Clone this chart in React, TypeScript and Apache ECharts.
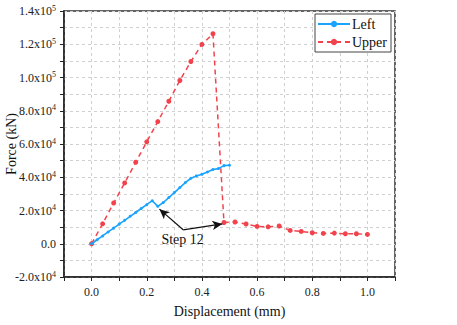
import React, { useEffect, useRef } from "react";
import * as echarts from "echarts";

const leftX = [0, 0.02, 0.04, 0.06, 0.08, 0.1, 0.12, 0.14, 0.16, 0.18, 0.2, 0.22, 0.24, 0.26, 0.28, 0.3, 0.32, 0.34, 0.36, 0.38, 0.4, 0.42, 0.44, 0.46, 0.48, 0.5];
const leftF = [0, 2400, 4700, 7100, 9400, 11800, 14100, 16500, 18800, 21200, 23500, 25900, 22500, 24800, 27800, 30800, 33800, 36800, 39400, 40800, 41800, 43200, 44700, 45200, 47000, 47200];

const upperX = [0, 0.04, 0.08, 0.12, 0.16, 0.2, 0.24, 0.28, 0.32, 0.36, 0.4, 0.44, 0.48, 0.52, 0.56, 0.6, 0.64, 0.68, 0.72, 0.76, 0.8, 0.84, 0.88, 0.92, 0.96, 1.0];
const upperF = [0, 12000, 24500, 36600, 49000, 61300, 73500, 85700, 98200, 109600, 119900, 126300, 12800, 13100, 11900, 10400, 10200, 10700, 8000, 7400, 6600, 6200, 6400, 6000, 6000, 5600];

const annotationText = "Step 12";
const arrowFrom = [0.332, 8400];
const arrowToLeft = [0.246, 20800];
const arrowToUpper = [0.474, 11900];
const textAt = [0.33, 2400];

const FONT = "Liberation Serif";

function yLabel(v: number): string {
  if (Math.abs(v) < 1e-9) return "{b|0.0}";
  if (Math.round(v / 10000) % 2 !== 0) return "";
  const e = Math.floor(Math.log10(Math.abs(v)));
  const m = (v / Math.pow(10, e)).toFixed(1);
  return `{b|${m}x10}{s|${e}}`;
}

function xLabel(v: number): string {
  const k = Math.round(v * 10);
  if (k < 0 || k > 10 || k % 2 !== 0) return "";
  return (k / 10).toFixed(1);
}

export default function App() {
  const ref = useRef<HTMLDivElement>(null);
  useEffect(() => {
    if (!ref.current) return;
    const chart = echarts.init(ref.current, undefined, { renderer: "svg" });
    const blue = "#1aa3ff";
    const red = "#f2434d";
    chart.setOption({
      animation: false,
      backgroundColor: "#fff",
      textStyle: { fontFamily: FONT },
      grid: {
        left: 64,
        top: 11,
        right: 62,
        bottom: 48,
        containLabel: false,
        outerBoundsMode: "none",
        show: true,
        borderColor: "#333",
        borderWidth: 1.5,
      },
      legend: {
        orient: "vertical",
        right: 66,
        top: 14,
        backgroundColor: "#fff",
        borderColor: "#444",
        borderWidth: 1,
        padding: [3, 4, 3, 2],
        itemGap: 4,
        itemWidth: 32,
        itemHeight: 8,
        textStyle: { fontFamily: FONT, fontSize: 14, color: "#111", padding: [0, 0, 0, -3] },
        data: ["Left", "Upper"],
      },
      xAxis: {
        type: "value",
        min: -0.1,
        max: 1.1,
        interval: 0.1,
        name: "Displacement (mm)",
        nameLocation: "middle",
        nameGap: 27,
        nameMoveOverlap: false,
        nameTextStyle: { fontFamily: FONT, fontSize: 14, color: "#111" },
        axisLine: { show: true, onZero: false, lineStyle: { color: "#222", width: 1.5 } },
        axisTick: { show: true, length: 4, inside: false, lineStyle: { color: "#222" } },
        axisLabel: {
          formatter: xLabel,
          fontFamily: FONT,
          fontSize: 12,
          color: "#222",
          margin: 9,
          showMinLabel: true,
          showMaxLabel: true,
        },
        splitLine: { show: true, lineStyle: { color: "#d0d0d0", type: [3, 3], width: 1 } },
      },
      yAxis: {
        type: "value",
        min: -20000,
        max: 140000,
        interval: 10000,
        name: "Force (kN)",
        nameLocation: "middle",
        nameGap: 46,
        nameMoveOverlap: false,
        nameTextStyle: { fontFamily: FONT, fontSize: 14, color: "#111" },
        axisLine: { show: true, onZero: false, lineStyle: { color: "#222", width: 1.5 } },
        axisTick: { show: true, length: 4, inside: false, lineStyle: { color: "#222" } },
        axisLabel: {
          formatter: yLabel,
          margin: 8,
          color: "#222",
          fontFamily: FONT,
          rich: {
            b: { fontFamily: FONT, fontSize: 12, color: "#222", lineHeight: 14 },
            s: { fontFamily: FONT, fontSize: 8, color: "#222", verticalAlign: "top", lineHeight: 8 },
          },
        },
        splitLine: { show: true, lineStyle: { color: "#d0d0d0", type: [3, 3], width: 1 } },
      },
      series: [
        {
          name: "Left",
          type: "line",
          data: leftX.map((x, i) => [x, leftF[i]]),
          symbol: "circle",
          symbolSize: 3,
          showSymbol: true,
          color: blue,
          lineStyle: { color: blue, width: 1.6 },
          itemStyle: { color: blue },
          z: 3,
        },
        {
          name: "Upper",
          type: "line",
          data: upperX.map((x, i) => [x, upperF[i]]),
          symbol: "circle",
          symbolSize: 5,
          showSymbol: true,
          color: red,
          lineStyle: { color: red, width: 1.5, type: [5, 4] },
          itemStyle: { color: red },
          z: 2,
          markLine: {
            silent: true,
            symbol: ["none", "arrow"],
            symbolSize: [7, 10],
            lineStyle: { color: "#111", width: 1.2, type: "solid" },
            label: { show: false },
            data: [
              [{ coord: arrowFrom }, { coord: arrowToLeft }],
              [{ coord: arrowFrom }, { coord: arrowToUpper }],
            ],
          },
          markPoint: {
            silent: true,
            symbol: "circle",
            symbolSize: 0,
            label: {
              show: true,
              formatter: annotationText,
              fontFamily: FONT,
              fontSize: 14,
              color: "#111",
              position: "inside",
            },
            data: [{ coord: textAt }],
          },
        },
      ],
    });
    return () => chart.dispose();
  }, []);
  return <div ref={ref} style={{ width: 457, height: 325, position: "absolute", left: 0, top: 0 }} />;
}
